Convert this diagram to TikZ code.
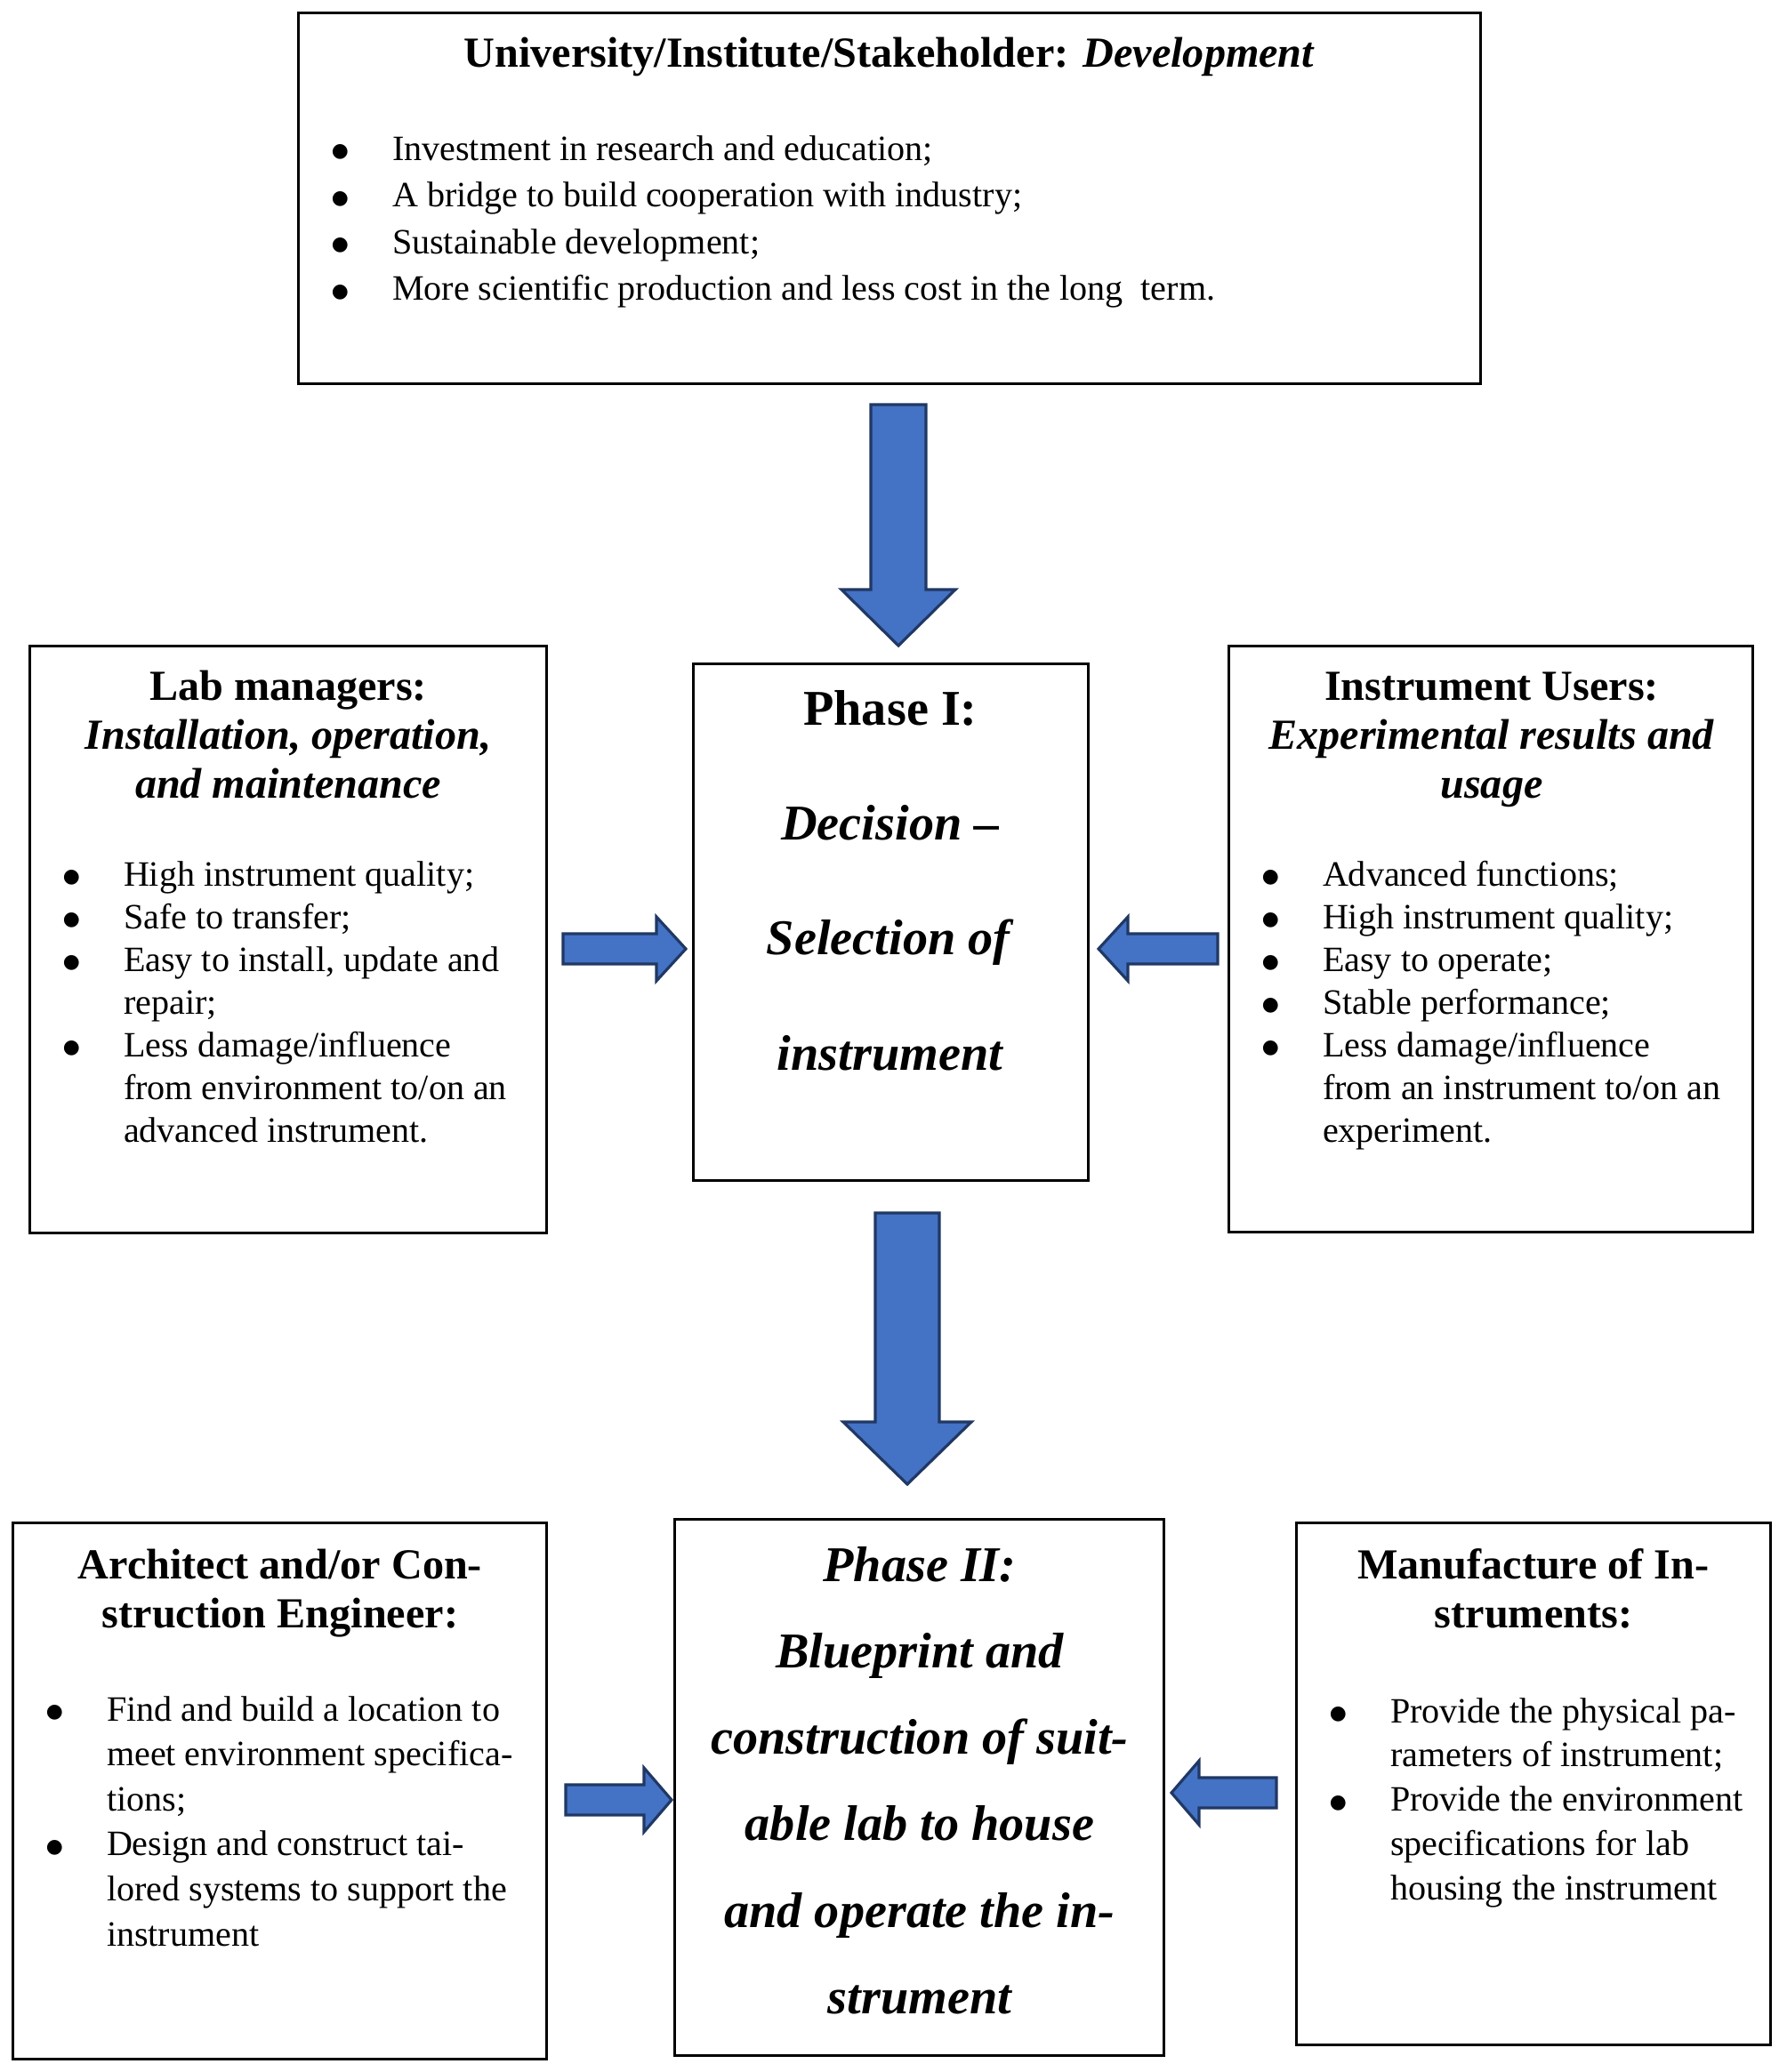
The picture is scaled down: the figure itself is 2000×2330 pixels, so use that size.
\documentclass[tikz,border=0pt]{standalone}
\usepackage{fontspec}
\setmainfont{Liberation Serif}
\newfontfamily\bulfont{DejaVu Sans}
\usetikzlibrary{calc}
\definecolor{arrfill}{HTML}{4472C4}
\definecolor{arrline}{HTML}{203864}
\newcommand{\bitem}{\makebox[20pt][l]{\hspace{0.6pt}\raisebox{1.0pt}{\bulfont\fontsize{6.2}{7}\selectfont ●}}}
\newcommand{\bcont}{\hspace*{20pt}}
\newcommand{\lsttab}[2]{{\fontsize{11.4}{#1}\selectfont\begin{tabular}[t]{@{}l@{}}#2\end{tabular}}}
\newcommand{\hdtab}[3]{{\fontsize{#1}{#2}\selectfont\bfseries\begin{tabular}[t]{@{}c@{}}#3\end{tabular}}}
\newcommand{\vblk}[5]{\draw[blk] ($(#1)+(-#3,0)$) -- ($(#1)+(#3,0)$) -- ($(#2)+(#3,-#5)$) -- ($(#2)+(#4,-#5)$) -- (#2) -- ($(#2)+(-#4,-#5)$) -- ($(#2)+(-#3,-#5)$) -- cycle;}
\newcommand{\hblk}[5]{\draw[blk] ($(#1)+(0,-#3)$) -- ($(#2)+(#5,-#3)$) -- ($(#2)+(#5,-#4)$) -- (#2) -- ($(#2)+(#5,#4)$) -- ($(#2)+(#5,#3)$) -- ($(#1)+(0,#3)$) -- cycle;}
\begin{document}
\begin{tikzpicture}[x=0.01cm,y=-0.01cm,
  box/.style={draw=black, line width=0.85pt, rectangle, inner sep=0pt},
  blk/.style={fill=arrfill, draw=arrline, line width=0.9pt, line join=miter},
  lsttext/.style={anchor=base west, inner sep=0pt},
  hdtext/.style={anchor=base, inner sep=0pt}]
\useasboundingbox[fill=white] (0,0) rectangle (2000,2330);

% boxes
\node[box, minimum width=13.28cm, minimum height=4.16cm] (top) at (1000,223) {};
\node[box, minimum width=5.80cm, minimum height=6.59cm] (lab) at (324,1056.5) {};
\node[box, minimum width=4.43cm, minimum height=5.80cm] (ph1) at (1001.5,1037) {};
\node[box, minimum width=5.88cm, minimum height=6.58cm] (usr) at (1676,1056) {};
\node[box, minimum width=5.99cm, minimum height=6.02cm] (arc) at (314.5,2014) {};
\node[box, minimum width=5.49cm, minimum height=6.02cm] (ph2) at (1033.5,2010) {};
\node[box, minimum width=5.32cm, minimum height=5.86cm] (man) at (1724,2006) {};

% top box text
\node[hdtext] (toptitle) at (1000,75) {\hdtab{13.7}{15.65}{University/Institute/Stakeholder: \textit{Development}}};
\node[lsttext] (toplist) at (370,180) {\lsttab{14.97}{%
\bitem Investment in research and education;\\
\bitem A bridge to build cooperation with industry;\\
\bitem Sustainable development;\\
\bitem More scientific production and less cost in the long\ \ term.}};

% lab managers
\node[hdtext] (labtitle) at (324,787) {\hdtab{13.7}{15.65}{Lab managers:\\ \textit{Installation, operation,}\\ \textit{and maintenance}}};
\node[lsttext] (lablist) at (68,996) {\lsttab{13.66}{%
\bitem High instrument quality;\\
\bitem Safe to transfer;\\
\bitem Easy to install, update and\\
\bcont repair;\\
\bitem Less damage/influence\\
\bcont from environment to/on an\\
\bcont advanced instrument.}};

% phase I
\node[hdtext] (ph1title) at (1001,815) {\hdtab{16}{36.8}{Phase I:\\ \textit{Decision –}\\ \textit{Selection of}\\ \textit{instrument}}};

% users
\node[hdtext] (usrtitle) at (1677,787) {\hdtab{13.7}{15.65}{Instrument Users:\\ \textit{Experimental results and}\\ \textit{usage}}};
\node[lsttext] (usrlist) at (1416,996) {\lsttab{13.66}{%
\bitem Advanced functions;\\
\bitem High instrument quality;\\
\bitem Easy to operate;\\
\bitem Stable performance;\\
\bitem Less damage/influence\\
\bcont from an instrument to/on an\\
\bcont experiment.}};

% architect
\node[hdtext] (arctitle) at (315,1775) {\hdtab{13.7}{15.65}{Architect and/or Con-\\ struction Engineer:}};
\node[lsttext] (arclist) at (49,1935) {\lsttab{14.4}{%
\bitem Find and build a location to\\
\bcont meet environment specifica-\\
\bcont tions;\\
\bitem Design and construct tai-\\
\bcont lored systems to support the\\
\bcont instrument}};

% phase II
\node[hdtext] (ph2title) at (1034,1778) {\hdtab{16}{27.66}{\itshape Phase II:\\ \itshape Blueprint and\\ \itshape construction of suit-\\ \itshape able lab to house\\ \itshape and operate the in-\\ \itshape strument}};

% manufacturer
\node[hdtext] (mantitle) at (1724,1775) {\hdtab{13.7}{15.65}{Manufacture of In-\\ struments:}};
\node[lsttext] (manlist) at (1492,1937) {\lsttab{14.2}{%
\bitem Provide the physical pa-\\
\bcont rameters of instrument;\\
\bitem Provide the environment\\
\bcont specifications for lab\\
\bcont housing the instrument}};

% arrow end points
\coordinate (a1s) at (1010,455);  \coordinate (a1e) at (1010,726);
\coordinate (a2s) at (1020,1364); \coordinate (a2e) at (1020,1669);
\coordinate (a3s) at (633,1067);  \coordinate (a3e) at (771,1067);
\coordinate (a4s) at (1369,1067); \coordinate (a4e) at (1235,1067);
\coordinate (a5s) at (636,2024);  \coordinate (a5e) at (755,2024);
\coordinate (a6s) at (1435,2016); \coordinate (a6e) at (1317,2016);

\vblk{a1s}{a1e}{31}{64}{63}
\vblk{a2s}{a2e}{36}{72}{70}
\hblk{a3s}{a3e}{17}{36}{-33}
\hblk{a4s}{a4e}{17}{36}{33}
\hblk{a5s}{a5e}{17}{36}{-31}
\hblk{a6s}{a6e}{17}{36}{31}
\end{tikzpicture}
\end{document}
